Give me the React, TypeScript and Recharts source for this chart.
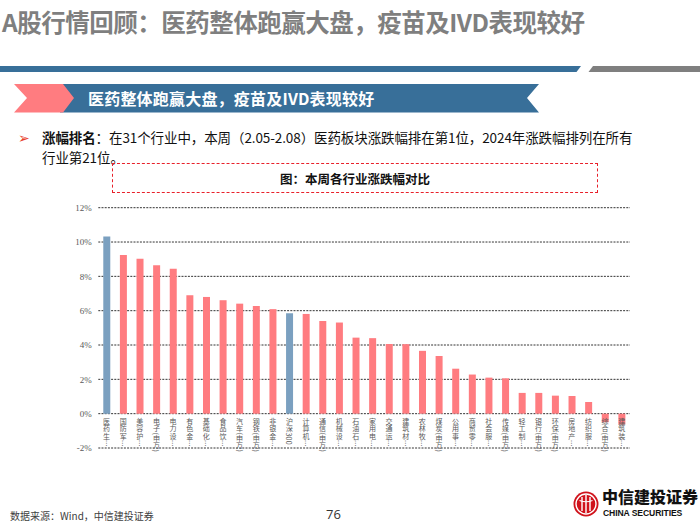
import { Bar, BarChart, CartesianGrid, Cell, XAxis, YAxis } from "recharts";

// palette
const PINK = "#ff7c80";
const STEEL = "#7ba0c0";
const NAVY = "#386f99";
const SLATE = "#7f7f7f";

const industries = [
  "医药生物(申万)", "国防军工(申万)", "美容护理(申万)", "电子(申万)", "电力设备(申万)",
  "有色金属(申万)", "基础化工(申万)", "食品饮料(申万)", "汽车(申万)", "钢铁(申万)",
  "非银金融(申万)", "沪深300", "计算机(申万)", "通信(申万)", "机械设备(申万)",
  "石油石化(申万)", "家用电器(申万)", "交通运输(申万)", "建筑材料(申万)", "农林牧渔(申万)",
  "煤炭(申万)", "公用事业(申万)", "商贸零售(申万)", "社会服务(申万)", "传媒(申万)",
  "轻工制造(申万)", "银行(申万)", "环保(申万)", "房地产(申万)", "纺织服饰(申万)",
  "综合(申万)", "建筑装饰(申万)",
];

// weekly change, %
const weeklyChange = [
  10.32, 9.25, 9.02, 8.65, 8.44,
  6.9, 6.8, 6.61, 6.41, 6.28,
  6.09, 5.85, 5.81, 5.4, 5.31,
  4.43, 4.4, 4.06, 4.05, 3.66,
  3.36, 2.62, 2.28, 2.1, 2.06,
  1.21, 1.21, 1.05, 1.03, 0.68,
  -0.5, -0.63,
];

const highlighted = ["医药生物(申万)", "沪深300"];
const yTicks = [-2, 0, 2, 4, 6, 8, 10, 12];
const Y_MIN = -2;
const Y_MAX = 12;

const PLOT_TOP = 207.7;
const PLOT_BOTTOM = 448;
const ZERO_SHIFT = ((PLOT_BOTTOM - PLOT_TOP) * (0 - Y_MIN)) / (Y_MAX - Y_MIN);

const CJK = '"Noto Sans CJK SC", "Noto Sans", sans-serif';
const SERIF = '"Liberation Serif", "DejaVu Serif", serif';

const rows = industries.map((name, i) => ({ name, value: weeklyChange[i] }));

function shortName(name: string) {
  return name.length > 6 ? `${name.slice(0, 3)}…` : name;
}

// vertical category label hung under the zero line
function VerticalTick({ x, y, payload }: any) {
  return (
    <text
      x={x}
      y={y - ZERO_SHIFT + 4.4}
      fontSize={7}
      fill="#595959"
      fontFamily={CJK}
      letterSpacing={0.2}
      style={{ writingMode: "vertical-rl" }}
    >
      {shortName(String(payload.value))}
    </text>
  );
}

function Logo() {
  return (
    <svg width={26} height={26} viewBox="0 0 26 26">
      <circle cx={13} cy={13} r={12.5} fill="#d0121b" />
      <path d="M13 3 A10 10 0 0 0 13 23" fill="none" stroke="#fff" strokeWidth={1.4} />
      <path d="M13 3 A10 10 0 0 1 13 23" fill="none" stroke="#fff" strokeWidth={1.4} />
      <path d="M9 6 V20 M13 4 V22 M17 6 V20" stroke="#fff" strokeWidth={1.4} />
      <path d="M6.5 9.5 Q13 12 19.5 9.5" fill="none" stroke="#fff" strokeWidth={1.2} />
    </svg>
  );
}

export default function App() {
  return (
    <div
      style={{
        position: "absolute",
        left: 0,
        top: 0,
        width: 700,
        height: 525,
        background: "#fff",
        overflow: "hidden",
        fontFamily: CJK,
      }}
    >
      {/* slide title */}
      <div
        style={{
          position: "absolute",
          left: 2,
          top: 6,
          fontSize: 24.5,
          fontWeight: 700,
          color: SLATE,
          letterSpacing: -0.5,
          whiteSpace: "nowrap",
          lineHeight: "32px",
        }}
      >
        A股行情回顾：医药整体跑赢大盘，疫苗及IVD表现较好
      </div>

      {/* rule + ribbon */}
      <svg width={700} height={120} style={{ position: "absolute", left: 0, top: 0 }}>
        <polygon points="0,66 581,66 576.5,72 0,72" fill={NAVY} />
        <polygon points="593,66 700,66 700,72 588.5,72" fill={SLATE} />
        <polygon points="60,84 539,84 527,98 539,112.5 60,112.5" fill={NAVY} />
        <polygon points="14,84 63,84 74,98 63,112.5 14,112.5 27,98" fill={PINK} />
      </svg>
      <div
        style={{
          position: "absolute",
          left: 88,
          top: 86,
          fontSize: 16,
          fontWeight: 700,
          color: "#fff",
          whiteSpace: "nowrap",
          lineHeight: "24px",
          letterSpacing: 0.2,
        }}
      >
        医药整体跑赢大盘，疫苗及IVD表现较好
      </div>

      {/* bullet text */}
      <div
        style={{
          position: "absolute",
          left: 18,
          top: 126,
          fontSize: 13.5,
          color: "#e8412c",
          lineHeight: "22px",
        }}
      >
        ➢
      </div>
      <div
        style={{
          position: "absolute",
          left: 42,
          top: 127,
          fontSize: 13.5,
          color: "#111",
          lineHeight: "20px",
          whiteSpace: "nowrap",
          letterSpacing: -0.1,
        }}
      >
        <b>涨幅排名</b>：在31个行业中，本周（2.05-2.08）医药板块涨跌幅排在第1位，2024年涨跌幅排列在所有
        <br />
        行业第21位。
      </div>

      {/* figure caption box */}
      <div
        style={{
          position: "absolute",
          left: 112,
          top: 163,
          width: 486,
          height: 30,
          boxSizing: "border-box",
          border: "1.5px dashed #e8202a",
          display: "flex",
          alignItems: "center",
          justifyContent: "center",
          fontSize: 12.5,
          fontWeight: 700,
          color: "#111",
        }}
      >
        图：本周各行业涨跌幅对比
      </div>

      {/* chart */}
      <div style={{ position: "absolute", left: 0, top: 0 }}>
        <BarChart
          width={700}
          height={525}
          data={rows}
          barCategoryGap="30%"
          margin={{ top: PLOT_TOP, right: 70, bottom: 525 - PLOT_BOTTOM - 1, left: 68.3 }}
        >
          <CartesianGrid
            horizontal
            vertical={false}
            stroke="#333"
            strokeDasharray="2 1.2"
          />
          <XAxis
            dataKey="name"
            interval={0}
            height={1}
            axisLine={false}
            tickLine={false}
            tickSize={0}
            tickMargin={0}
            tick={<VerticalTick />}
          />
          <YAxis
            width={30}
            domain={[Y_MIN, Y_MAX]}
            ticks={yTicks}
            axisLine={false}
            tickLine={false}
            tickSize={0}
            tickMargin={6.5}
            tickFormatter={(v) => `${v}%`}
            tick={{ fill: "#595959", fontSize: 9, fontFamily: SERIF }}
          />
          <Bar dataKey="value" isAnimationActive={false}>
            {rows.map((r, i) => (
              <Cell key={i} fill={highlighted.includes(r.name) ? STEEL : PINK} />
            ))}
          </Bar>
        </BarChart>
      </div>

      {/* footer */}
      <div
        style={{
          position: "absolute",
          left: 10,
          top: 508,
          fontSize: 10,
          color: "#404040",
          whiteSpace: "nowrap",
        }}
      >
        数据来源：Wind，中信建投证券
      </div>
      <div
        style={{
          position: "absolute",
          left: 326,
          top: 505,
          fontSize: 13,
          color: "#333",
          fontFamily: '"Open Sans", sans-serif',
        }}
      >
        76
      </div>
      <div style={{ position: "absolute", left: 573, top: 491 }}>
        <Logo />
      </div>
      <div
        style={{
          position: "absolute",
          left: 602,
          top: 486,
          fontSize: 16,
          fontWeight: 900,
          color: "#111",
          whiteSpace: "nowrap",
          lineHeight: "20px",
        }}
      >
        中信建投证券
      </div>
      <div
        style={{
          position: "absolute",
          left: 603,
          top: 508,
          fontSize: 8.6,
          fontWeight: 700,
          color: "#111",
          whiteSpace: "nowrap",
          fontFamily: '"Liberation Sans", sans-serif',
          letterSpacing: -0.1,
        }}
      >
        CHINA SECURITIES
      </div>
    </div>
  );
}
